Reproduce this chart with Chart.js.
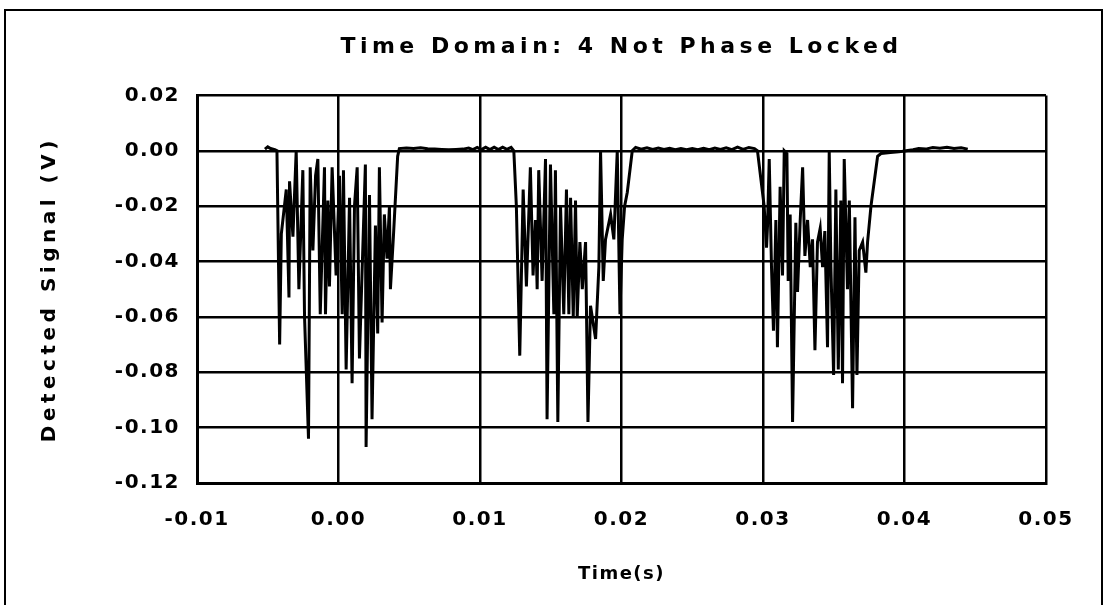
<!DOCTYPE html>
<html>
<head>
<meta charset="utf-8">
<script src="https://cdn.jsdelivr.net/npm/chart.js@4"></script>
<style>
  body { margin: 0; background: #fff; }
</style>
</head>
<body>
<canvas id="myChart" width="1107" height="605"></canvas>
<script>
// time axis (s) and detected signal (V)
const timeS = [
  // lead-in
  -0.0052, -0.0050, -0.0048, -0.0045,
  // burst 1
  -0.00435, -0.00416, -0.00404, -0.00369, -0.00350, -0.00346, -0.00322, -0.00299,
  -0.00280, -0.00252, -0.00240, -0.00212, -0.00200, -0.00181, -0.00162, -0.00146,
  -0.00129, -0.00099, -0.00092, -0.00075, -0.00064, -0.00045, -0.00017, 0.00007,
  0.00026, 0.00035, 0.00054, 0.00078, 0.00096, 0.00113, 0.00132, 0.00148,
  0.00190, 0.00195, 0.00219, 0.00237, 0.00261, 0.00277, 0.00289, 0.00308,
  0.00324, 0.00343, 0.00360, 0.00367, 0.00388, 0.00418,
  // quiet 1
  0.00430, 0.00480, 0.00530, 0.00580, 0.00630, 0.00680, 0.00730, 0.00780,
  0.00830, 0.00880, 0.00920, 0.00950, 0.00980, 0.01010, 0.01040, 0.01070,
  0.01100, 0.01130, 0.01160, 0.01190, 0.01220,
  // burst 2
  0.01239, 0.01257, 0.01281, 0.01305, 0.01328, 0.01356, 0.01375, 0.01392,
  0.01404, 0.01415, 0.01439, 0.01463, 0.01474, 0.01498, 0.01522, 0.01533,
  0.01550, 0.01569, 0.01592, 0.01611, 0.01628, 0.01640, 0.01659, 0.01675,
  0.01687, 0.01706, 0.01723, 0.01746, 0.01763, 0.01781, 0.01817, 0.01840,
  0.01852, 0.01871, 0.01887, 0.01923, 0.01946, 0.01970, 0.01989, 0.02005,
  0.02022, 0.02041, 0.02076,
  // quiet 2
  0.02100, 0.02140, 0.02180, 0.02220, 0.02260, 0.02300, 0.02340, 0.02380,
  0.02420, 0.02460, 0.02500, 0.02540, 0.02580, 0.02620, 0.02660, 0.02700,
  0.02740, 0.02780, 0.02820, 0.02860, 0.02900, 0.02940,
  // burst 3
  0.02961, 0.03008, 0.03025, 0.03032, 0.03044, 0.03060, 0.03074, 0.03091,
  0.03102, 0.03121, 0.03138, 0.03150, 0.03169, 0.03178, 0.03192, 0.03209,
  0.03232, 0.03244, 0.03263, 0.03280, 0.03296, 0.03315, 0.03334, 0.03350,
  0.03367, 0.03385, 0.03404, 0.03421, 0.03437, 0.03456, 0.03468, 0.03480,
  0.03499, 0.03515, 0.03532, 0.03550, 0.03562, 0.03574, 0.03597, 0.03610,
  0.03633, 0.03650, 0.03664, 0.03680, 0.03704, 0.03727, 0.03739, 0.03763,
  0.03810, 0.03834,
  // tail
  0.03900, 0.03960, 0.04011, 0.04060, 0.04100, 0.04150, 0.04200, 0.04250,
  0.04300, 0.04350, 0.04400, 0.04447
];

const signalV = [
  // lead-in
  0.0006, 0.0014, 0.0008, 0.0004,
  // burst 1
  0.000, -0.070, -0.030, -0.014, -0.053, -0.011, -0.031, 0.000,
  -0.050, -0.007, -0.060, -0.104, -0.006, -0.036, -0.009, -0.003,
  -0.059, -0.006, -0.059, -0.018, -0.049, -0.006, -0.045, -0.009,
  -0.059, -0.007, -0.079, -0.017, -0.084, -0.020, -0.006, -0.075,
  -0.005, -0.107, -0.016, -0.097, -0.027, -0.066, -0.006, -0.062,
  -0.023, -0.039, -0.020, -0.050, -0.031, -0.002,
  // quiet 1
  0.0008, 0.0010, 0.0008, 0.0011, 0.0007, 0.0006, 0.0005, 0.0004,
  0.0005, 0.0006, 0.0010, 0.0004, 0.0012, 0.0004, 0.0013, 0.0004,
  0.0013, 0.0004, 0.0013, 0.0005, 0.0012,
  // burst 2
  0.000, -0.020, -0.074, -0.014, -0.049, -0.006, -0.045, -0.025,
  -0.050, -0.007, -0.047, -0.003, -0.097, -0.005, -0.059, -0.007,
  -0.098, -0.020, -0.059, -0.014, -0.059, -0.017, -0.060, -0.018,
  -0.060, -0.033, -0.050, -0.033, -0.098, -0.056, -0.068, -0.042,
  0.000, -0.047, -0.032, -0.023, -0.032, 0.000, -0.059, -0.032,
  -0.020, -0.015, 0.000,
  // quiet 2
  0.0012, 0.0006, 0.0011, 0.0005, 0.0010, 0.0005, 0.0009, 0.0004,
  0.0008, 0.0004, 0.0008, 0.0004, 0.0009, 0.0004, 0.0010, 0.0005,
  0.0011, 0.0004, 0.0013, 0.0005, 0.0012, 0.0008,
  // burst 3
  0.000, -0.020, -0.035, -0.027, -0.003, -0.042, -0.065, -0.025,
  -0.071, -0.013, -0.045, 0.000, -0.001, -0.047, -0.023, -0.098,
  -0.026, -0.051, -0.025, -0.006, -0.038, -0.025, -0.042, -0.032,
  -0.072, -0.033, -0.028, -0.042, -0.029, -0.071, 0.000, -0.042,
  -0.081, -0.014, -0.079, -0.018, -0.084, -0.003, -0.050, -0.018,
  -0.093, -0.024, -0.081, -0.036, -0.033, -0.044, -0.033, -0.020,
  -0.002, -0.001,
  // tail
  -0.0006, -0.0004, 0.0000, 0.0004, 0.0008, 0.0006, 0.0012, 0.0009,
  0.0013, 0.0008, 0.0011, 0.0006
];

const xTicks = [-0.01, 0.00, 0.01, 0.02, 0.03, 0.04, 0.05];
const yTicks = [-0.12, -0.10, -0.08, -0.06, -0.04, -0.02, 0.00, 0.02];

const points = timeS.map((t, i) => ({ x: t, y: signalV[i] }));

const FONT = "'DejaVu Sans', sans-serif";

// outer frame + letter spacing (wide for titles, tighter for tick labels)
const framePlugin = {
  id: "framePlugin",
  beforeDraw(chart) {
    const c = chart.ctx;
    c.save();
    c.strokeStyle = "#000";
    c.lineWidth = 2;
    c.beginPath();
    c.moveTo(5, 605);
    c.lineTo(5, 10);
    c.lineTo(1102, 10);
    c.lineTo(1102, 605);
    c.stroke();
    c.restore();
    c.letterSpacing = "4.5px";
  },
  afterDatasetsDraw(chart) {
    chart.ctx.letterSpacing = "1.5px";
  },
  afterDraw(chart) {
    chart.ctx.letterSpacing = "0px";
  },
};

const ctx = document.getElementById("myChart");

new Chart(ctx, {
  type: "line",
  data: {
    datasets: [
      {
        data: points,
        borderColor: "#000",
        borderWidth: 3,
        pointRadius: 0,
        tension: 0,
        fill: false,
      },
    ],
  },
  options: {
    responsive: false,
    animation: false,
    devicePixelRatio: 1,
    layout: { padding: { left: 0, right: 61, top: 0, bottom: 0 } },
    plugins: {
      legend: { display: false },
      tooltip: { enabled: false },
      title: {
        display: true,
        text: "Time Domain: 4 Not Phase Locked",
        color: "#000",
        fullSize: false,
        font: { family: FONT, size: 22, weight: "bold" },
        padding: { top: 34, bottom: 35 },
      },
    },
    scales: {
      x: {
        type: "linear",
        min: -0.01,
        max: 0.05,
        afterBuildTicks: (s) => {
          s.ticks = xTicks.map((v) => ({ value: v }));
        },
        afterFit: (s) => {
          s.height = 122;
        },
        ticks: {
          autoSkip: false,
          maxRotation: 0,
          padding: 25,
          color: "#000",
          z: 1,
          font: { family: FONT, size: 20, weight: "bold" },
          callback: (v) => v.toFixed(2),
        },
        grid: { color: "#000", lineWidth: 2.5, drawTicks: false, z: 1 },
        border: { color: "#000", width: 3, z: 1 },
        title: {
          display: true,
          text: "Time(s)",
          color: "#000",
          font: { family: FONT, size: 18, weight: "bold" },
          padding: { top: 0, bottom: 20 },
        },
      },
      y: {
        min: -0.12,
        max: 0.02,
        afterBuildTicks: (s) => {
          s.ticks = yTicks.map((v) => ({ value: v }));
        },
        afterFit: (s) => {
          s.width = 197;
        },
        ticks: {
          padding: 17,
          color: "#000",
          z: 1,
          font: { family: FONT, size: 20, weight: "bold" },
          callback: (v) => v.toFixed(2),
        },
        grid: { color: "#000", lineWidth: 2.5, drawTicks: false },
        border: { color: "#000", width: 3 },
        title: {
          display: true,
          text: "Detected Signal (V)",
          color: "#000",
          font: { family: FONT, size: 20, weight: "bold" },
          padding: { top: 38, bottom: 0 },
        },
      },
    },
  },
  plugins: [framePlugin],
});
</script>
</body>
</html>
